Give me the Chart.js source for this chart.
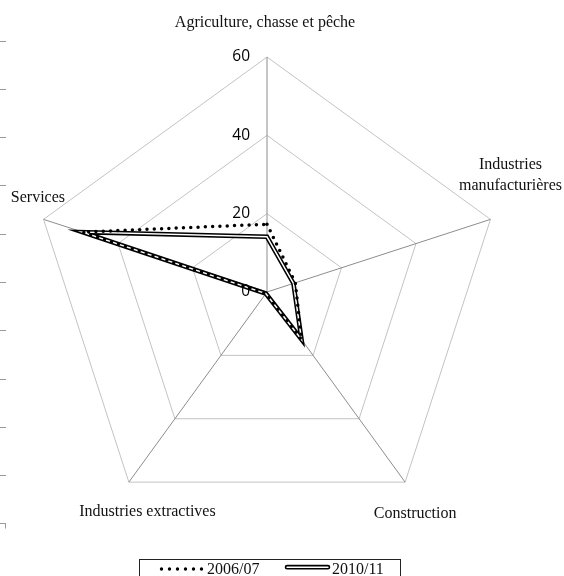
<!DOCTYPE html>
<html>
<head>
<meta charset="utf-8">
<title>Radar – répartition par secteur</title>
<script src="https://cdn.jsdelivr.net/npm/chart.js@4.4.1/dist/chart.umd.min.js"></script>
<style>
  html, body { margin: 0; padding: 0; background: #fff; overflow: hidden; }
  #wrap { position: relative; width: 564px; height: 576px; }
  #chart { position: absolute; left: 0; top: 0; }
  .legend-box { position: absolute; left: 139px; top: 559px; width: 262px; height: 40px;
                border: 1px solid #222; box-sizing: border-box; }
  .legend-text { position: absolute; font-family: "Liberation Serif", "Times New Roman", serif;
                 font-size: 16px; line-height: 16px; color: #111; white-space: nowrap; }
  .legend-sample { position: absolute; }
</style>
</head>
<body>
<div id="wrap">
  <canvas id="chart" width="564" height="576"></canvas>
  <div class="legend-box"></div>
  <svg class="legend-sample" style="left:157px;top:563px" width="52" height="12">
    <line x1="4.5" y1="6" x2="44.8" y2="6" stroke="#000" stroke-width="3.4" stroke-linecap="round" stroke-dasharray="0 8"/>
  </svg>
  <span class="legend-text" id="lg0" style="left:207px;top:561px"></span>
  <svg class="legend-sample" style="left:283px;top:562px" width="50" height="12">
    <rect x="2.5" y="3.6" width="44" height="3.2" rx="1.6" fill="#fff" stroke="#000" stroke-width="1.6"/>
  </svg>
  <span class="legend-text" id="lg1" style="left:332px;top:561px"></span>
</div>
<script>
// Axis categories (clockwise from the top)
const categories = [
  'Agriculture, chasse et pêche',
  ['Industries', 'manufacturières'],
  'Construction',
  'Industries extractives',
  'Services'
];
const seriesNames = ['2006/07', '2010/11'];
const values2006 = [17.3, 7.6, 15.0, 0.5, 49.5];
const values2011 = [14.1, 7.1, 15.0, 0.5, 49.5];
const radialMax = 60;
const radialStep = 20;

document.getElementById('lg0').textContent = seriesNames[0];
document.getElementById('lg1').textContent = seriesNames[1];

// Tick values beside the vertical spoke and category names around the web
const radarText = {
  id: 'radarText',
  afterDraw(chart, args, opts) {
    const scale = chart.scales.r;
    const ctx = chart.ctx;
    ctx.save();
    ctx.font = opts.tickFont;
    ctx.fillStyle = opts.tickColor;
    ctx.textAlign = 'right';
    ctx.textBaseline = 'middle';
    scale.ticks.forEach(t => {
      const d = scale.getDistanceFromCenterForValue(t.value);
      ctx.fillText(String(t.value), scale.xCenter - opts.tickGap, scale.yCenter - d);
    });
    ctx.font = opts.labelFont;
    ctx.fillStyle = opts.labelColor;
    ctx.textAlign = 'center';
    chart.data.labels.forEach((label, i) => {
      const p = scale.getPointPositionForValue(i, scale.max);
      const off = opts.offsets[i];
      const lines = Array.isArray(label) ? label : [label];
      lines.forEach((line, k) => {
        const y = p.y + off[1] + (k - (lines.length - 1) / 2) * opts.lineHeight;
        ctx.fillText(line, p.x + off[0], y);
      });
    });
    ctx.restore();
  }
};

// White core stroked over the black line, giving a double rule
const doubleRule = {
  id: 'doubleRule',
  afterDatasetDraw(chart, args, opts) {
    if (args.index !== opts.datasetIndex) return;
    const pts = args.meta.data;
    const ctx = chart.ctx;
    ctx.save();
    ctx.beginPath();
    pts.forEach((p, i) => (i ? ctx.lineTo(p.x, p.y) : ctx.moveTo(p.x, p.y)));
    ctx.closePath();
    ctx.strokeStyle = '#fff';
    ctx.lineWidth = opts.innerWidth;
    ctx.lineJoin = 'miter';
    ctx.stroke();
    ctx.restore();
  }
};

// Short tick marks along the left edge of the page
const edgeTicks = {
  id: 'edgeTicks',
  afterDraw(chart, args, opts) {
    const ctx = chart.ctx;
    ctx.save();
    ctx.strokeStyle = opts.color;
    ctx.lineWidth = 1;
    ctx.beginPath();
    for (let i = 0; i < opts.count; i++) {
      const y = Math.round(opts.first + i * opts.step) + 0.5;
      ctx.moveTo(0, y);
      ctx.lineTo(opts.length, y);
      if (i === opts.count - 1) {
        ctx.moveTo(opts.length - 0.5, y);
        ctx.lineTo(opts.length - 0.5, y + 5);
      }
    }
    ctx.stroke();
    ctx.restore();
  }
};

new Chart(document.getElementById('chart'), {
  type: 'radar',
  data: {
    labels: categories,
    datasets: [
      {
        label: seriesNames[0],
        data: values2006,
        borderColor: '#000',
        borderWidth: 3.5,
        borderDash: [0, 7.3],
        borderCapStyle: 'round',
        backgroundColor: 'transparent',
        fill: false,
        pointRadius: 0,
        tension: 0
      },
      {
        label: seriesNames[1],
        data: values2011,
        borderColor: '#000',
        borderWidth: 4.6,
        borderJoinStyle: 'miter',
        backgroundColor: 'transparent',
        fill: false,
        pointRadius: 0,
        tension: 0
      }
    ]
  },
  options: {
    responsive: false,
    animation: false,
    devicePixelRatio: 1,
    layout: { padding: { left: 32, top: 57, right: 62, bottom: 49 } },
    plugins: {
      legend: { display: false },
      tooltip: { enabled: false },
      radarText: {
        tickFont: '15.5px "Open Sans", "Liberation Sans", sans-serif',
        tickColor: '#000',
        tickGap: 17,
        labelFont: '16px "Liberation Serif", "Times New Roman", serif',
        labelColor: '#111',
        lineHeight: 20.7,
        offsets: [[-2, -34.3], [20, -44], [10, 31.3], [18.6, 29.7], [-5.6, -21.7]]
      },
      doubleRule: { datasetIndex: 1, innerWidth: 1.5 },
      edgeTicks: { first: 40.7, step: 48.26, count: 11, length: 6, color: '#9a9a9a' }
    },
    scales: {
      r: {
        min: 0,
        max: radialMax,
        ticks: { stepSize: radialStep, display: false },
        grid: { color: '#c3c3c3', lineWidth: 1 },
        angleLines: { color: '#8c8c8c', lineWidth: 1 },
        pointLabels: { display: false }
      }
    }
  },
  plugins: [radarText, doubleRule, edgeTicks]
});
</script>
</body>
</html>
